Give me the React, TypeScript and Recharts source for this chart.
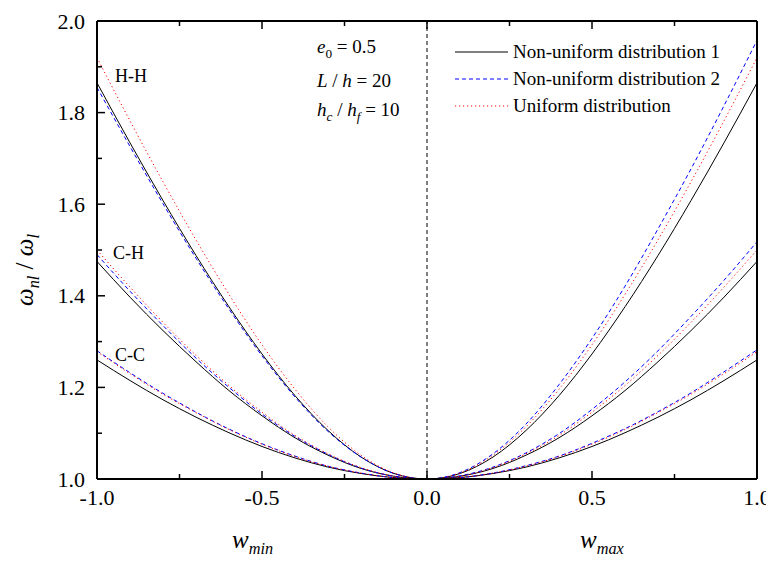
import React from "react";
import { LineChart, Line, XAxis, YAxis, ReferenceLine, Legend } from "recharts";

// w from -1 (w_min side) to 1 (w_max side)
const wValues = [-1, -0.9, -0.8, -0.7, -0.6, -0.5, -0.4, -0.3, -0.2, -0.1, 0, 0.1, 0.2, 0.3, 0.4, 0.5, 0.6, 0.7, 0.8, 0.9, 1];

// H-H
const hhNu1 = [1.865, 1.734, 1.608, 1.488, 1.376, 1.273, 1.182, 1.106, 1.048, 1.012, 1.0, 1.012, 1.048, 1.106, 1.182, 1.273, 1.376, 1.488, 1.608, 1.734, 1.865];
const hhNu2 = [1.855, 1.726, 1.601, 1.482, 1.371, 1.269, 1.179, 1.104, 1.048, 1.012, 1.0, 1.014, 1.055, 1.12, 1.206, 1.307, 1.421, 1.546, 1.677, 1.815, 1.958];
const hhU = [1.92, 1.782, 1.649, 1.522, 1.403, 1.293, 1.196, 1.114, 1.052, 1.013, 1.0, 1.013, 1.052, 1.114, 1.196, 1.293, 1.403, 1.522, 1.649, 1.782, 1.92];
// C-H
const chNu1 = [1.475, 1.397, 1.324, 1.256, 1.193, 1.138, 1.09, 1.052, 1.023, 1.006, 1.0, 1.006, 1.023, 1.052, 1.09, 1.138, 1.193, 1.256, 1.324, 1.397, 1.475];
const chNu2 = [1.49, 1.41, 1.335, 1.264, 1.2, 1.142, 1.093, 1.054, 1.024, 1.006, 1.0, 1.007, 1.026, 1.057, 1.099, 1.152, 1.212, 1.28, 1.355, 1.434, 1.518];
const chU = [1.5, 1.419, 1.342, 1.27, 1.204, 1.146, 1.095, 1.055, 1.025, 1.006, 1.0, 1.006, 1.025, 1.055, 1.095, 1.146, 1.204, 1.27, 1.342, 1.419, 1.5];
// C-C
const ccNu1 = [1.26, 1.215, 1.173, 1.135, 1.101, 1.071, 1.046, 1.026, 1.012, 1.003, 1.0, 1.003, 1.012, 1.026, 1.046, 1.071, 1.101, 1.135, 1.173, 1.215, 1.26];
const ccNu2 = [1.28, 1.232, 1.187, 1.146, 1.109, 1.077, 1.05, 1.028, 1.013, 1.003, 1.0, 1.003, 1.013, 1.029, 1.05, 1.078, 1.11, 1.147, 1.188, 1.234, 1.282];
const ccU = [1.278, 1.23, 1.185, 1.145, 1.108, 1.076, 1.049, 1.028, 1.013, 1.003, 1.0, 1.003, 1.013, 1.028, 1.049, 1.076, 1.108, 1.145, 1.185, 1.23, 1.278];

const xTicks = [-1, -0.75, -0.5, -0.25, 0, 0.25, 0.5, 0.75, 1];
const yTicks = [1.0, 1.1, 1.2, 1.3, 1.4, 1.5, 1.6, 1.7, 1.8, 1.9, 2.0];

const seriesNames = ["Non-uniform distribution 1", "Non-uniform distribution 2", "Uniform distribution"];

const data = wValues.map((w, i) => ({
  w,
  hhNu1: hhNu1[i], hhNu2: hhNu2[i], hhU: hhU[i],
  chNu1: chNu1[i], chNu2: chNu2[i], chU: chU[i],
  ccNu1: ccNu1[i], ccNu2: ccNu2[i], ccU: ccU[i],
}));

const FONT = '"Liberation Serif", "Times New Roman", serif';
const BLUE = "#0000ff";
const RED = "#ff0000";

const styles: Record<string, { stroke: string; dash?: string }> = {
  [seriesNames[0]]: { stroke: "#000" },
  [seriesNames[1]]: { stroke: BLUE, dash: "4 3" },
  [seriesNames[2]]: { stroke: RED, dash: "1.2 2.8" },
};

const majorX = (v: number) => Math.abs(v * 2 - Math.round(v * 2)) < 1e-6;
const majorY = (v: number) => Math.abs(v * 5 - Math.round(v * 5)) < 1e-6;

const BottomTick = ({ x, y, payload }: any) => {
  const m = majorX(payload.value);
  return (
    <g>
      <line x1={x} x2={x} y1={y} y2={y - (m ? 8 : 5)} stroke="#000" strokeWidth={1.5} />
      {m && (
        <text x={x} y={y + 26} textAnchor="middle" style={{ fontFamily: FONT }} fontSize={22} fill="#000">
          {payload.value.toFixed(1)}
        </text>
      )}
    </g>
  );
};

const TopTick = ({ x, y, payload }: any) => (
  <line x1={x} x2={x} y1={y} y2={y + (majorX(payload.value) ? 8 : 5)} stroke="#000" strokeWidth={1.5} />
);

const LeftTick = ({ x, y, payload }: any) => {
  const m = majorY(payload.value);
  return (
    <g>
      <line x1={x} x2={x + (m ? 8 : 5)} y1={y} y2={y} stroke="#000" strokeWidth={1.5} />
      {m && (
        <text x={x - 12} y={y + 7.5} textAnchor="end" style={{ fontFamily: FONT }} fontSize={22} fill="#000">
          {payload.value.toFixed(1)}
        </text>
      )}
    </g>
  );
};

const RightTick = ({ x, y, payload }: any) => (
  <line x1={x} x2={x - (majorY(payload.value) ? 8 : 5)} y1={y} y2={y} stroke="#000" strokeWidth={1.5} />
);

const LegendContent = ({ payload }: any) => {
  // one row per distribution (the C-H and C-C curves share the H-H styles)
  const names = seriesNames.filter((n) => (payload || []).some((p: any) => p.value === n));
  return (
    <div style={{ fontFamily: FONT, fontSize: 19, color: "#000" }}>
      {names.map((n) => {
        const s = styles[n];
        return (
          <div key={n} style={{ display: "flex", alignItems: "center", height: 27 }}>
            <svg width={56} height={10}>
              <line x1={1} x2={54} y1={5} y2={5} stroke={s.stroke} strokeWidth={1} strokeDasharray={s.dash} />
            </svg>
            <span style={{ marginLeft: 3 }}>{n}</span>
          </div>
        );
      })}
    </div>
  );
};

const txt: React.CSSProperties = { position: "absolute", fontFamily: FONT, color: "#000", whiteSpace: "nowrap", lineHeight: 1 };
const sub: React.CSSProperties = { fontSize: "0.7em", verticalAlign: "-0.35em", lineHeight: 1 };

export default function App() {
  const lineFor = (key: string, name: string) => {
    const s = styles[name];
    return (
      <Line
        key={key}
        type="monotone"
        dataKey={key}
        name={name}
        stroke={s.stroke}
        strokeWidth={1}
        strokeDasharray={s.dash}
        dot={false}
        activeDot={false}
        isAnimationActive={false}
      />
    );
  };

  return (
    <div style={{ position: "relative", width: 766, height: 555, fontFamily: FONT }}>
      <LineChart width={766} height={555} data={data} margin={{ top: 12, right: 16, bottom: 0, left: 0 }}>
        <XAxis
          dataKey="w"
          type="number"
          domain={[-1, 1]}
          ticks={xTicks}
          interval={0}
          tickSize={0}
          tickMargin={0}
          tickLine={false}
          tick={<BottomTick />}
          axisLine={{ stroke: "#000", strokeWidth: 2 }}
          height={84}
        />
        <XAxis
          xAxisId="top"
          orientation="top"
          dataKey="w"
          type="number"
          domain={[-1, 1]}
          ticks={xTicks}
          interval={0}
          tickSize={0}
          tickMargin={0}
          tickLine={false}
          tick={<TopTick />}
          axisLine={{ stroke: "#000", strokeWidth: 2 }}
          height={1}
        />
        <YAxis
          type="number"
          domain={[1, 2]}
          ticks={yTicks}
          interval={0}
          tickSize={0}
          tickMargin={0}
          tickLine={false}
          tick={<LeftTick />}
          axisLine={{ stroke: "#000", strokeWidth: 2 }}
          width={89}
        />
        <YAxis
          yAxisId="right"
          orientation="right"
          type="number"
          domain={[1, 2]}
          ticks={yTicks}
          interval={0}
          tickSize={0}
          tickMargin={0}
          tickLine={false}
          tick={<RightTick />}
          axisLine={{ stroke: "#000", strokeWidth: 2 }}
          width={1}
        />
        <ReferenceLine x={0} stroke="#000" strokeWidth={1} strokeDasharray="4 3" />
        {lineFor("hhNu1", seriesNames[0])}
        {lineFor("hhNu2", seriesNames[1])}
        {lineFor("hhU", seriesNames[2])}
        {lineFor("chNu1", seriesNames[0])}
        {lineFor("chNu2", seriesNames[1])}
        {lineFor("chU", seriesNames[2])}
        {lineFor("ccNu1", seriesNames[0])}
        {lineFor("ccNu2", seriesNames[1])}
        {lineFor("ccU", seriesNames[2])}
        <Legend
          layout="vertical"
          align="center"
          verticalAlign="middle"
          content={<LegendContent />}
          wrapperStyle={{ left: 446, top: 30, width: 310, height: 81 }}
        />
      </LineChart>

      {/* curve group labels */}
      <div style={{ ...txt, left: 107, top: 59, fontSize: 18 }}>H-H</div>
      <div style={{ ...txt, left: 105, top: 236, fontSize: 18 }}>C-H</div>
      <div style={{ ...txt, left: 107, top: 338, fontSize: 18 }}>C-C</div>

      {/* parameters */}
      <div style={{ ...txt, left: 309, top: 29, fontSize: 19 }}>
        <i>e</i><span style={sub}>0</span> = 0.5
      </div>
      <div style={{ ...txt, left: 309, top: 63, fontSize: 19 }}>
        <i>L</i> / <i>h</i> = 20
      </div>
      <div style={{ ...txt, left: 309, top: 92, fontSize: 19 }}>
        <i>h</i><span style={sub}><i>c</i></span> / <i>h</i><span style={sub}><i>f</i></span> = 10
      </div>

      {/* axis titles */}
      <div style={{ ...txt, left: 224, top: 519, fontSize: 25 }}>
        <i>w</i><span style={{ ...sub, fontSize: "0.65em" }}><i>min</i></span>
      </div>
      <div style={{ ...txt, left: 572, top: 519, fontSize: 25 }}>
        <i>w</i><span style={{ ...sub, fontSize: "0.65em" }}><i>max</i></span>
      </div>
      <div
        style={{
          ...txt,
          left: 19,
          top: 262,
          fontSize: 25,
          transform: "translate(-50%, -50%) rotate(-90deg)",
        }}
      >
        <i>ω</i><span style={{ ...sub, fontSize: "0.65em" }}><i>nl</i></span> / <i>ω</i><span style={{ ...sub, fontSize: "0.65em" }}><i>l</i></span>
      </div>
    </div>
  );
}
